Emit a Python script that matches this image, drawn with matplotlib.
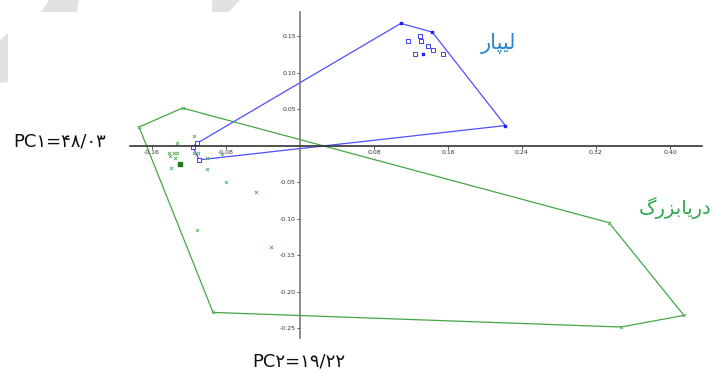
#!/usr/bin/env python3
"""
Biplot PCA: polígonos convexos de Lipar y Daryabozorg sobre PC1 / PC2.
"""

import matplotlib

matplotlib.use("Agg")
import matplotlib.pyplot as plt
from matplotlib.patches import Polygon

# --- datos ---------------------------------------------------------------
x_ticks = [-0.16, -0.08, 0.08, 0.16, 0.24, 0.32, 0.40]
y_ticks = [0.15, 0.10, 0.05, -0.05, -0.10, -0.15, -0.20, -0.25]

lipar_hull_x = [0.109, 0.143, 0.222, -0.109, -0.116, -0.111]
lipar_hull_y = [0.168, 0.156, 0.028, -0.019, -0.001, 0.004]
lipar_pts_x = [0.117, 0.130, 0.131, 0.138, 0.144, 0.124, 0.155]
lipar_pts_y = [0.144, 0.151, 0.144, 0.137, 0.131, 0.126, 0.126]
lipar_filled = (0.133, 0.126)

darya_hull_x = [-0.174, -0.127, 0.334, 0.415, 0.347, -0.094]
darya_hull_y = [0.026, 0.052, -0.105, -0.232, -0.248, -0.228]
darya_pts_x = [-0.115, -0.133, -0.142, -0.140, -0.136, -0.133, -0.135, -0.139,
               -0.115, -0.110, -0.101, -0.101, -0.084, -0.080, -0.048, -0.111,
               -0.031]
darya_pts_y = [0.014, 0.004, -0.010, -0.014, -0.009, -0.009, -0.017, -0.030,
               -0.010, -0.009, -0.016, -0.032, -0.011, -0.050, -0.063, -0.115,
               -0.138]
darya_filled = (-0.130, -0.024)

label_lipar = "لیپار"
label_darya = "دریابزرگ"
label_pc1 = "PC۱=۴۸/۰۳"
label_pc2 = "PC۲=۱۹/۲۲"

# formas de presentación (aislada, final, inicial, medial)
_FORMS = {
    "ل": ("\uFEDD", "\uFEDE", "\uFEDF", "\uFEE0"),
    "ی": ("\uFBFC", "\uFBFD", "\uFBFE", "\uFBFF"),
    "پ": ("\uFB56", "\uFB57", "\uFB58", "\uFB59"),
    "ب": ("\uFE8F", "\uFE90", "\uFE91", "\uFE92"),
    "گ": ("\uFB92", "\uFB93", "\uFB94", "\uFB95"),
    "ا": ("\uFE8D", "\uFE8E"),
    "ر": ("\uFEAD", "\uFEAE"),
    "ز": ("\uFEAF", "\uFEB0"),
    "د": ("\uFEA9", "\uFEAA"),
}


def shape_rtl(word: str) -> str:
    """Une las letras persas y las deja en orden visual (matplotlib no hace bidi)."""
    out = []
    for i, ch in enumerate(word):
        forms = _FORMS[ch]
        prev_joins = i > 0 and len(_FORMS[word[i - 1]]) == 4
        next_joins = len(forms) == 4 and i < len(word) - 1
        if prev_joins and next_joins:
            out.append(forms[3])
        elif prev_joins:
            out.append(forms[1])
        elif next_joins:
            out.append(forms[2])
        else:
            out.append(forms[0])
    return "".join(reversed(out))


W, H = 715, 372
fig = plt.figure(figsize=(W / 100, H / 100), dpi=100)
ax = fig.add_axes([0, 0, 1, 1])
ax.set_xlim(-0.3243, 0.4486)
ax.set_ylim(-0.3096, 0.2)

# marcas de agua grises de la parte superior
for pts in ([(49, 0), (79, 0), (77, 12), (41, 12)],
            [(0, 40), (8, 33), (8, 82), (0, 83)],
            [(212, 0), (240, 0), (229, 12), (212, 12)]):
    fig.patches.append(Polygon([(x / W, 1 - y / H) for x, y in pts], closed=True,
                               transform=fig.transFigure, facecolor="#e2e2e2",
                               edgecolor="none", zorder=0))

for side in ("top", "right"):
    ax.spines[side].set_visible(False)
ax.spines["left"].set_position(("data", 0))
ax.spines["bottom"].set_position(("data", 0))
ax.spines["left"].set_bounds(-0.263, 0.1836)
ax.spines["bottom"].set_bounds(-0.184, 0.4346)
ax.spines["left"].set_color("#7a7a7a")
ax.spines["bottom"].set_color("#333333")
ax.spines["left"].set_linewidth(1.2)
ax.spines["bottom"].set_linewidth(1.2)

ax.set_xticks(x_ticks)
ax.set_xticklabels([f"{v:.2f}" for v in x_ticks])
ax.set_yticks(y_ticks)
ax.set_yticklabels([f"{v:.2f}" for v in y_ticks])
ax.tick_params(axis="both", labelsize=4.5, length=2, width=0.6, pad=1,
               colors="#333333")
ax.set_facecolor("none")

# polígonos
ax.add_patch(Polygon(list(zip(darya_hull_x, darya_hull_y)), closed=True,
                     fill=False, edgecolor="#46a646", linewidth=0.9))
ax.add_patch(Polygon(list(zip(lipar_hull_x, lipar_hull_y)), closed=True,
                     fill=False, edgecolor="#5050ff", linewidth=0.9))

ax.scatter(darya_hull_x + darya_pts_x, darya_hull_y + darya_pts_y, marker="x",
           s=5, linewidths=0.6, color="#4caf50")
ax.scatter(*darya_filled, marker="s", s=5, color="#1f7a1f")
ax.scatter(lipar_pts_x + lipar_hull_x[3:], lipar_pts_y + lipar_hull_y[3:],
           marker="s", s=5, linewidths=0.6, facecolor="white",
           edgecolor="#2222ee")
ax.scatter(lipar_hull_x[:3] + [lipar_filled[0]],
           lipar_hull_y[:3] + [lipar_filled[1]], marker="s", s=4,
           color="#2222ee")

fig.text(499 / W, 1 - 44 / H, shape_rtl(label_lipar), fontsize=15,
         color="#2a86d1", ha="center", va="center", family="DejaVu Sans")
fig.text(711 / W, 1 - 208 / H, shape_rtl(label_darya), fontsize=14,
         color="#2aa84a", ha="right", va="center", family="DejaVu Sans")
fig.text(13 / W, 1 - 142 / H, label_pc1, fontsize=13, color="#111111",
         ha="left", va="center", family="DejaVu Sans")
fig.text(252 / W, 1 - 362 / H, label_pc2, fontsize=13, color="#111111",
         ha="left", va="center", family="DejaVu Sans")

fig.savefig("out.png", dpi=100)
